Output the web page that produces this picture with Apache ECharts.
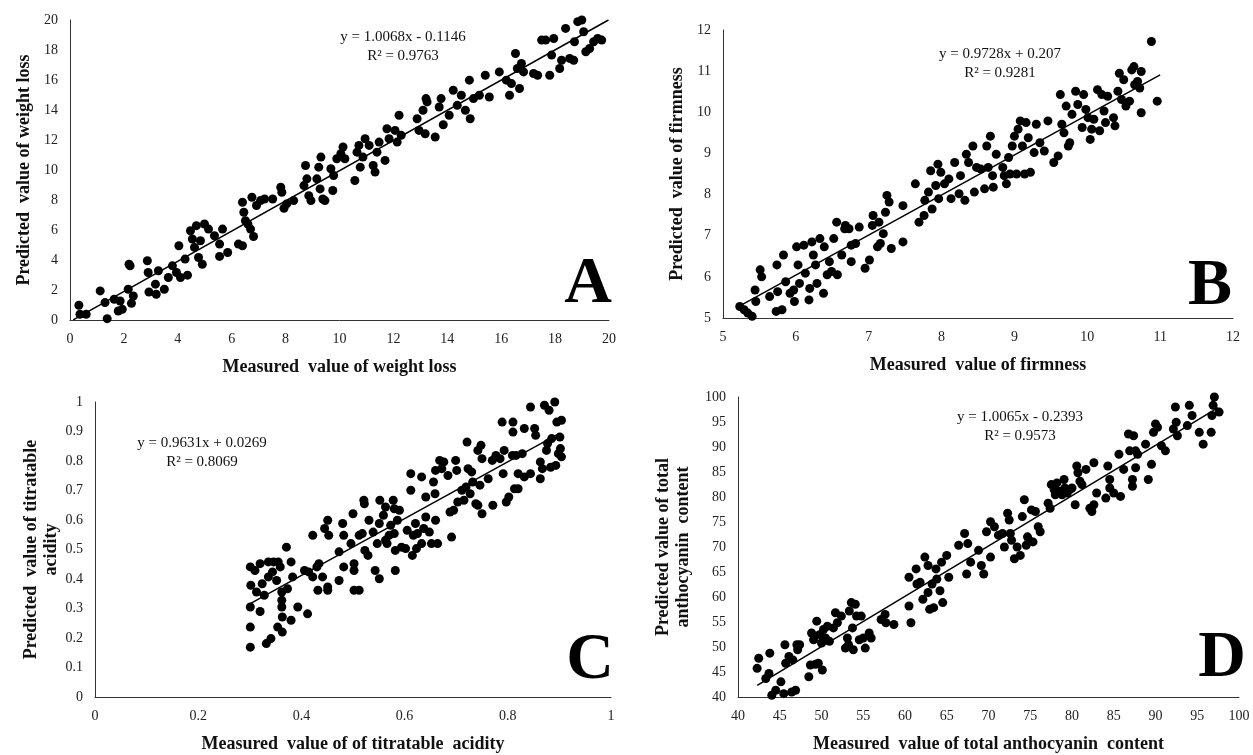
<!DOCTYPE html>
<html>
<head>
<meta charset="utf-8">
<script src="https://cdn.jsdelivr.net/npm/echarts@6/dist/echarts.min.js"></script>
<style>
  html, body { margin: 0; padding: 0; background: #fff; }
  #chart { width: 1253px; height: 755px; }
</style>
</head>
<body>
<div id="chart"></div>
<script>
// A - weight loss
const measuredA = [0.33,0.37,0.6,1.12,1.3,1.38,1.64,1.79,1.86,1.94,2.16,2.23,2.19,2.28,2.35,2.87,2.9,2.93,3.17,3.2,3.28,3.5,3.65,3.8,3.95,4.04,4.1,4.27,4.36,4.47,4.54,4.62,4.69,4.77,4.84,4.91,4.99,5.14,5.36,5.55,5.55,5.66,5.85,6.25,6.4,6.4,6.45,6.51,6.6,6.7,6.75,6.81,6.92,7.07,7.22,7.52,7.82,7.86,7.94,8.04,8.3,8.68,8.74,8.79,8.86,8.94,9.16,9.23,9.28,9.31,9.38,9.46,9.68,9.75,9.78,9.9,10.05,10.13,10.2,10.57,10.65,10.72,10.77,10.87,10.95,11.1,11.25,11.32,11.39,11.47,11.69,11.76,11.84,12.06,12.14,12.21,12.29,12.88,12.95,13.1,13.18,13.21,13.25,13.55,13.7,13.77,13.85,14.07,14.22,14.37,14.52,14.67,14.82,14.85,14.97,15.19,15.41,15.56,15.93,16.19,16.31,16.38,16.53,16.6,16.68,16.75,16.83,17.2,17.35,17.5,17.65,17.8,17.87,17.95,18.17,18.24,18.39,18.54,18.69,18.72,18.84,18.99,19.06,19.14,19.28,19.43,19.58,19.73];
const predictedA = [0.98,0.38,0.38,1.94,1.16,0.09,1.38,0.6,1.27,0.71,2.05,3.61,3.72,1.11,1.6,3.95,3.17,1.87,2.39,1.72,3.28,2.05,2.83,3.61,3.17,4.95,2.83,4.06,2.99,5.95,5.4,4.84,6.29,4.17,5.28,3.72,6.4,6.06,5.62,5.06,4.24,6.06,4.5,5.06,4.95,7.85,7.18,6.62,6.4,6.06,8.18,5.57,7.63,7.96,8.07,8.07,8.85,8.52,7.45,7.74,7.96,8.96,10.3,9.41,8.29,7.96,9.41,10.19,8.74,10.86,8.07,7.96,10.08,8.63,9.63,10.75,11.08,11.53,10.75,9.3,11.19,11.64,10.19,10.86,12.08,11.64,10.3,9.86,11.19,11.86,10.64,12.75,12.08,12.64,11.86,13.65,12.31,13.42,12.64,13.98,12.42,14.76,14.54,12.2,14.2,14.76,13.02,13.65,15.32,14.31,14.98,13.98,15.99,13.42,14.76,14.98,16.32,14.87,16.54,15.99,14.98,15.76,17.77,16.77,15.43,17.1,16.54,16.43,16.32,18.66,18.66,16.32,17.66,18.77,16.77,17.32,19.44,17.44,17.32,18.55,19.89,20.0,19.22,17.88,18.1,18.55,18.77,18.66];

// B - firmness
const measuredB = [5.23,5.29,5.34,5.4,5.44,5.45,5.51,5.53,5.64,5.73,5.74,5.75,5.81,5.83,5.86,5.92,5.97,5.98,6.01,6.03,6.05,6.11,6.13,6.18,6.19,6.22,6.24,6.27,6.29,6.33,6.38,6.39,6.43,6.46,6.49,6.52,6.56,6.57,6.63,6.67,6.68,6.73,6.76,6.76,6.82,6.87,6.95,7.01,7.05,7.06,7.12,7.14,7.16,7.2,7.23,7.25,7.28,7.31,7.47,7.47,7.64,7.69,7.76,7.77,7.82,7.85,7.87,7.92,7.95,7.96,7.99,8.04,8.1,8.13,8.18,8.24,8.26,8.32,8.34,8.37,8.43,8.45,8.48,8.54,8.59,8.62,8.64,8.67,8.7,8.71,8.75,8.84,8.86,8.89,8.92,8.94,8.97,9.0,9.03,9.05,9.08,9.11,9.14,9.16,9.19,9.22,9.27,9.3,9.35,9.41,9.46,9.54,9.6,9.63,9.65,9.68,9.71,9.74,9.76,9.79,9.84,9.87,9.93,9.95,9.98,10.01,10.04,10.06,10.09,10.14,10.17,10.2,10.23,10.25,10.28,10.36,10.38,10.42,10.44,10.47,10.5,10.53,10.58,10.61,10.64,10.65,10.69,10.72,10.74,10.74,10.88,10.96];
const predictedB = [5.28,5.2,5.12,5.04,5.68,5.4,6.17,6.0,5.52,5.16,6.29,5.64,5.2,6.53,5.88,5.6,5.68,5.4,6.73,6.29,5.84,6.77,6.09,5.44,5.72,6.85,6.53,6.29,5.84,6.93,5.6,6.73,6.05,6.37,6.13,6.93,7.33,6.05,6.53,7.17,7.25,7.17,6.37,6.77,6.81,7.21,6.21,6.41,7.25,7.49,6.73,7.33,6.81,7.05,7.57,7.98,7.82,6.69,7.73,6.85,8.26,7.33,7.49,7.86,8.06,8.58,7.65,8.22,8.74,7.9,8.54,8.26,8.38,7.9,8.78,8.02,8.46,7.86,8.98,8.78,9.18,8.06,8.66,8.62,8.14,9.18,8.66,9.42,8.46,8.18,8.98,8.66,8.46,8.26,8.9,8.5,9.18,9.42,8.5,9.59,9.79,9.18,8.5,9.75,9.38,8.54,9.02,9.71,9.26,9.06,9.79,8.78,8.94,10.43,9.71,9.5,10.15,9.18,9.26,9.95,10.51,10.19,9.63,10.43,10.07,9.87,9.34,9.59,9.83,10.55,9.55,10.43,10.03,9.75,10.39,9.87,9.67,10.51,10.95,10.31,10.79,10.15,10.27,11.03,11.11,10.67,10.75,10.59,10.99,9.99,11.72,10.27];

// C - titratable acidity
const measuredC = [0.301,0.302,0.301,0.301,0.301,0.31,0.313,0.32,0.32,0.324,0.328,0.332,0.336,0.336,0.341,0.344,0.346,0.352,0.354,0.355,0.359,0.362,0.362,0.362,0.363,0.363,0.371,0.373,0.38,0.38,0.383,0.393,0.406,0.412,0.414,0.422,0.422,0.43,0.434,0.432,0.441,0.445,0.451,0.451,0.451,0.453,0.473,0.473,0.48,0.482,0.482,0.496,0.5,0.502,0.502,0.502,0.512,0.512,0.518,0.521,0.522,0.523,0.529,0.531,0.539,0.543,0.547,0.551,0.551,0.552,0.559,0.563,0.563,0.566,0.57,0.573,0.578,0.58,0.58,0.582,0.582,0.586,0.59,0.594,0.602,0.605,0.612,0.612,0.615,0.617,0.621,0.623,0.625,0.633,0.633,0.637,0.641,0.641,0.648,0.652,0.656,0.659,0.66,0.66,0.664,0.668,0.672,0.676,0.684,0.688,0.691,0.695,0.699,0.701,0.703,0.711,0.715,0.719,0.721,0.723,0.727,0.73,0.732,0.738,0.742,0.742,0.746,0.748,0.75,0.75,0.762,0.77,0.771,0.777,0.785,0.789,0.791,0.793,0.797,0.802,0.809,0.81,0.81,0.813,0.816,0.82,0.82,0.828,0.832,0.832,0.844,0.844,0.852,0.854,0.863,0.863,0.867,0.871,0.875,0.877,0.88,0.883,0.885,0.891,0.893,0.895,0.898,0.901,0.902,0.904,0.904];
const predictedC = [0.441,0.379,0.305,0.237,0.169,0.429,0.356,0.452,0.29,0.384,0.345,0.181,0.458,0.407,0.198,0.424,0.458,0.395,0.237,0.458,0.441,0.356,0.328,0.305,0.271,0.22,0.508,0.367,0.458,0.26,0.407,0.305,0.429,0.282,0.424,0.548,0.407,0.441,0.452,0.362,0.407,0.571,0.599,0.373,0.362,0.548,0.492,0.395,0.588,0.548,0.441,0.52,0.621,0.452,0.429,0.362,0.362,0.548,0.554,0.667,0.655,0.497,0.48,0.599,0.559,0.429,0.52,0.401,0.588,0.667,0.616,0.644,0.531,0.52,0.548,0.582,0.667,0.638,0.554,0.429,0.497,0.599,0.633,0.508,0.503,0.565,0.757,0.701,0.48,0.548,0.588,0.503,0.554,0.746,0.52,0.571,0.61,0.678,0.559,0.52,0.729,0.689,0.599,0.768,0.52,0.802,0.774,0.797,0.751,0.627,0.542,0.633,0.802,0.768,0.661,0.701,0.667,0.712,0.864,0.774,0.689,0.763,0.729,0.655,0.836,0.65,0.718,0.853,0.808,0.621,0.74,0.802,0.65,0.819,0.808,0.932,0.757,0.836,0.661,0.678,0.819,0.932,0.898,0.706,0.819,0.706,0.757,0.825,0.91,0.746,0.983,0.757,0.91,0.887,0.797,0.74,0.774,0.989,0.836,0.859,0.972,0.779,0.876,1.0,0.785,0.932,0.825,0.881,0.842,0.938,0.814];

// D - total anthocyanin content
const measuredD = [42.29,42.48,43.33,43.71,43.81,44.05,44.52,45.14,45.48,45.62,45.71,46.1,46.43,46.57,46.9,47.05,47.14,47.38,48.48,48.67,48.81,49.05,49.29,49.43,49.62,49.76,50.0,50.1,50.24,50.48,50.71,50.95,51.43,51.67,51.9,52.38,52.86,53.1,53.24,53.33,53.57,53.71,53.81,54.05,54.19,54.52,54.76,55.0,55.24,55.71,55.95,57.14,57.62,57.71,58.67,60.48,60.48,60.71,61.33,61.43,61.81,62.14,62.38,62.76,62.76,62.95,63.24,63.43,63.71,63.81,64.19,64.38,64.52,65.0,65.24,66.43,67.14,67.38,67.52,67.86,68.81,69.14,69.43,69.76,70.24,70.24,70.71,71.19,71.67,71.9,72.29,72.48,72.62,72.76,73.1,73.43,73.81,74.05,74.29,74.52,74.67,74.86,75.14,75.33,75.62,75.95,76.19,77.14,77.38,77.52,77.86,78.0,78.19,78.48,78.81,79.05,79.14,79.43,79.76,80.0,80.38,80.57,80.71,80.95,81.19,81.67,82.14,82.38,82.62,82.62,82.95,84.05,84.29,84.52,84.52,85.0,85.62,85.81,86.19,86.76,86.9,87.24,87.24,87.38,87.62,87.62,87.86,88.81,89.14,89.52,89.76,90.0,90.24,90.71,91.19,92.14,92.38,92.48,92.62,93.81,94.05,94.38,95.24,95.71,96.67,96.76,96.9,97.05,97.62];
const predictedD = [45.73,47.75,43.71,44.72,48.77,40.34,41.35,43.03,40.67,50.45,46.74,48.09,41.01,47.42,41.35,50.45,49.44,50.45,44.05,46.41,52.81,51.46,46.54,55.17,46.74,52.47,50.79,45.39,53.49,51.8,54.16,51.13,53.82,56.86,54.84,56.18,49.78,51.8,50.45,57.19,58.88,53.82,49.44,58.54,56.18,51.46,56.18,51.8,49.78,52.81,51.8,55.51,56.52,54.84,54.5,63.94,58.21,54.84,65.62,62.59,62.93,59.56,67.98,66.3,60.9,57.53,62.59,57.87,65.62,63.6,61.24,66.97,58.88,68.32,63.94,70.34,72.7,64.61,70.68,66.97,69.33,66.3,64.61,73.04,67.98,75.06,74.05,72.37,72.7,70.01,76.75,75.4,72.7,71.36,67.65,70.01,68.32,76.08,79.45,70.34,72.03,71.36,77.42,71.02,77.09,74.05,73.04,78.77,77.76,82.48,81.47,80.46,82.82,81.13,80.46,83.49,81.81,80.8,81.47,81.81,78.44,86.19,84.84,83.16,82.48,85.52,77.76,77.09,78.44,86.86,80.8,79.78,86.19,83.49,81.81,80.8,88.55,80.12,85.52,92.6,89.23,83.49,82.14,92.26,89.23,85.86,88.55,90.57,83.49,86.53,92.93,94.62,93.94,90.24,89.23,93.61,98.0,94.96,92.26,94.28,98.33,96.3,92.93,90.57,92.93,96.3,98.33,100.0,96.98];

// trend lines: slope, intercept, x range
const slopes = [1.0068, 0.9728, 0.9631, 1.0065];
const intercepts = [-0.1146, 0.207, 0.0269, -0.2393];
const lineStart = [0.12, 5.25, 0.3, 42.3];
const lineEnd = [19.98, 11.0, 0.9, 97.5];

const equations = ['y = 1.0068x - 0.1146', 'y = 0.9728x + 0.207', 'y = 0.9631x + 0.0269', 'y = 1.0065x - 0.2393'];
const rSquared = ['R² = 0.9763', 'R² = 0.9281', 'R² = 0.8069', 'R² = 0.9573'];
const panelLetters = ['A', 'B', 'C', 'D'];

const xNames = ['Measured  value of weight loss', 'Measured  value of firmness', 'Measured  value of of titratable  acidity', 'Measured  value of total anthocyanin  content'];
const yNames = ['Predicted  value of weight loss', 'Predicted  value of firmness', 'Predicted  value of titratable\nacidity', 'Predicted value of total\nanthocyanin  content'];

const xMin = [0, 5, 0, 40], xMax = [20, 12, 1, 100], xStep = [2, 1, 0.2, 5];
const yMin = [0, 5, 0, 40], yMax = [20, 12, 1, 100], yStep = [2, 1, 0.1, 5];

const measured = [measuredA, measuredB, measuredC, measuredD];
const predicted = [predictedA, predictedB, predictedC, predictedD];

const FONT = '"Liberation Serif", "Times New Roman", serif';

const grids = [
  { left: 70, top: 20, width: 539, height: 300 },
  { left: 723, top: 30, width: 510, height: 288 },
  { left: 95, top: 402, width: 516, height: 295 },
  { left: 738, top: 397, width: 501, height: 300 },
];
const yNameGap = [36, 36, 34, 45];
const eqPos = [[403, 47], [1000, 64], [202, 453], [1020, 427]];
const letterPos = [[588, 318], [1210, 320], [590, 694], [1222, 692]];

const myChart = echarts.init(document.getElementById('chart'));

const axisLine = { show: true, lineStyle: { color: '#333', width: 1 } };
const axisLabel = { color: '#222', fontFamily: FONT, fontSize: 14, margin: 12 };
const nameStyle = { color: '#111', fontFamily: FONT, fontSize: 18, fontWeight: 'bold', lineHeight: 20 };

const xAxis = [], yAxis = [], series = [], graphic = [];
for (let i = 0; i < 4; i++) {
  xAxis.push({
    type: 'value', gridIndex: i, min: xMin[i], max: xMax[i], interval: xStep[i],
    name: xNames[i], nameLocation: 'middle', nameGap: 37, nameTextStyle: nameStyle,
    axisLine, axisTick: { show: false }, splitLine: { show: false }, axisLabel,
  });
  yAxis.push({
    type: 'value', gridIndex: i, min: yMin[i], max: yMax[i], interval: yStep[i],
    name: yNames[i], nameLocation: 'middle', nameGap: yNameGap[i], nameTextStyle: nameStyle,
    axisLine, axisTick: { show: false }, splitLine: { show: false }, axisLabel,
  });
  series.push({
    type: 'scatter', xAxisIndex: i, yAxisIndex: i, symbolSize: 9,
    itemStyle: { color: '#000', opacity: 1 },
    data: measured[i].map((v, k) => [v, predicted[i][k]]),
  });
  series.push({
    type: 'line', xAxisIndex: i, yAxisIndex: i, symbol: 'none', silent: true,
    lineStyle: { color: '#000', width: 1.5 },
    data: [lineStart[i], lineEnd[i]].map(x => [x, slopes[i] * x + intercepts[i]]),
  });
  graphic.push({
    type: 'text', x: eqPos[i][0], y: eqPos[i][1],
    style: { text: equations[i] + '\n' + rSquared[i], font: '15px ' + FONT, fill: '#111', textAlign: 'center', textVerticalAlign: 'middle', lineHeight: 19 },
  });
  graphic.push({
    type: 'text', x: letterPos[i][0], y: letterPos[i][1],
    style: { text: panelLetters[i], font: 'bold 66px ' + FONT, fill: '#000', textAlign: 'center', textVerticalAlign: 'bottom' },
  });
}

const option = {
  backgroundColor: '#fff',
  animation: false,
  grid: grids,
  xAxis,
  yAxis,
  series,
  graphic,
};

myChart.setOption(option, true);
</script>
</body>
</html>
